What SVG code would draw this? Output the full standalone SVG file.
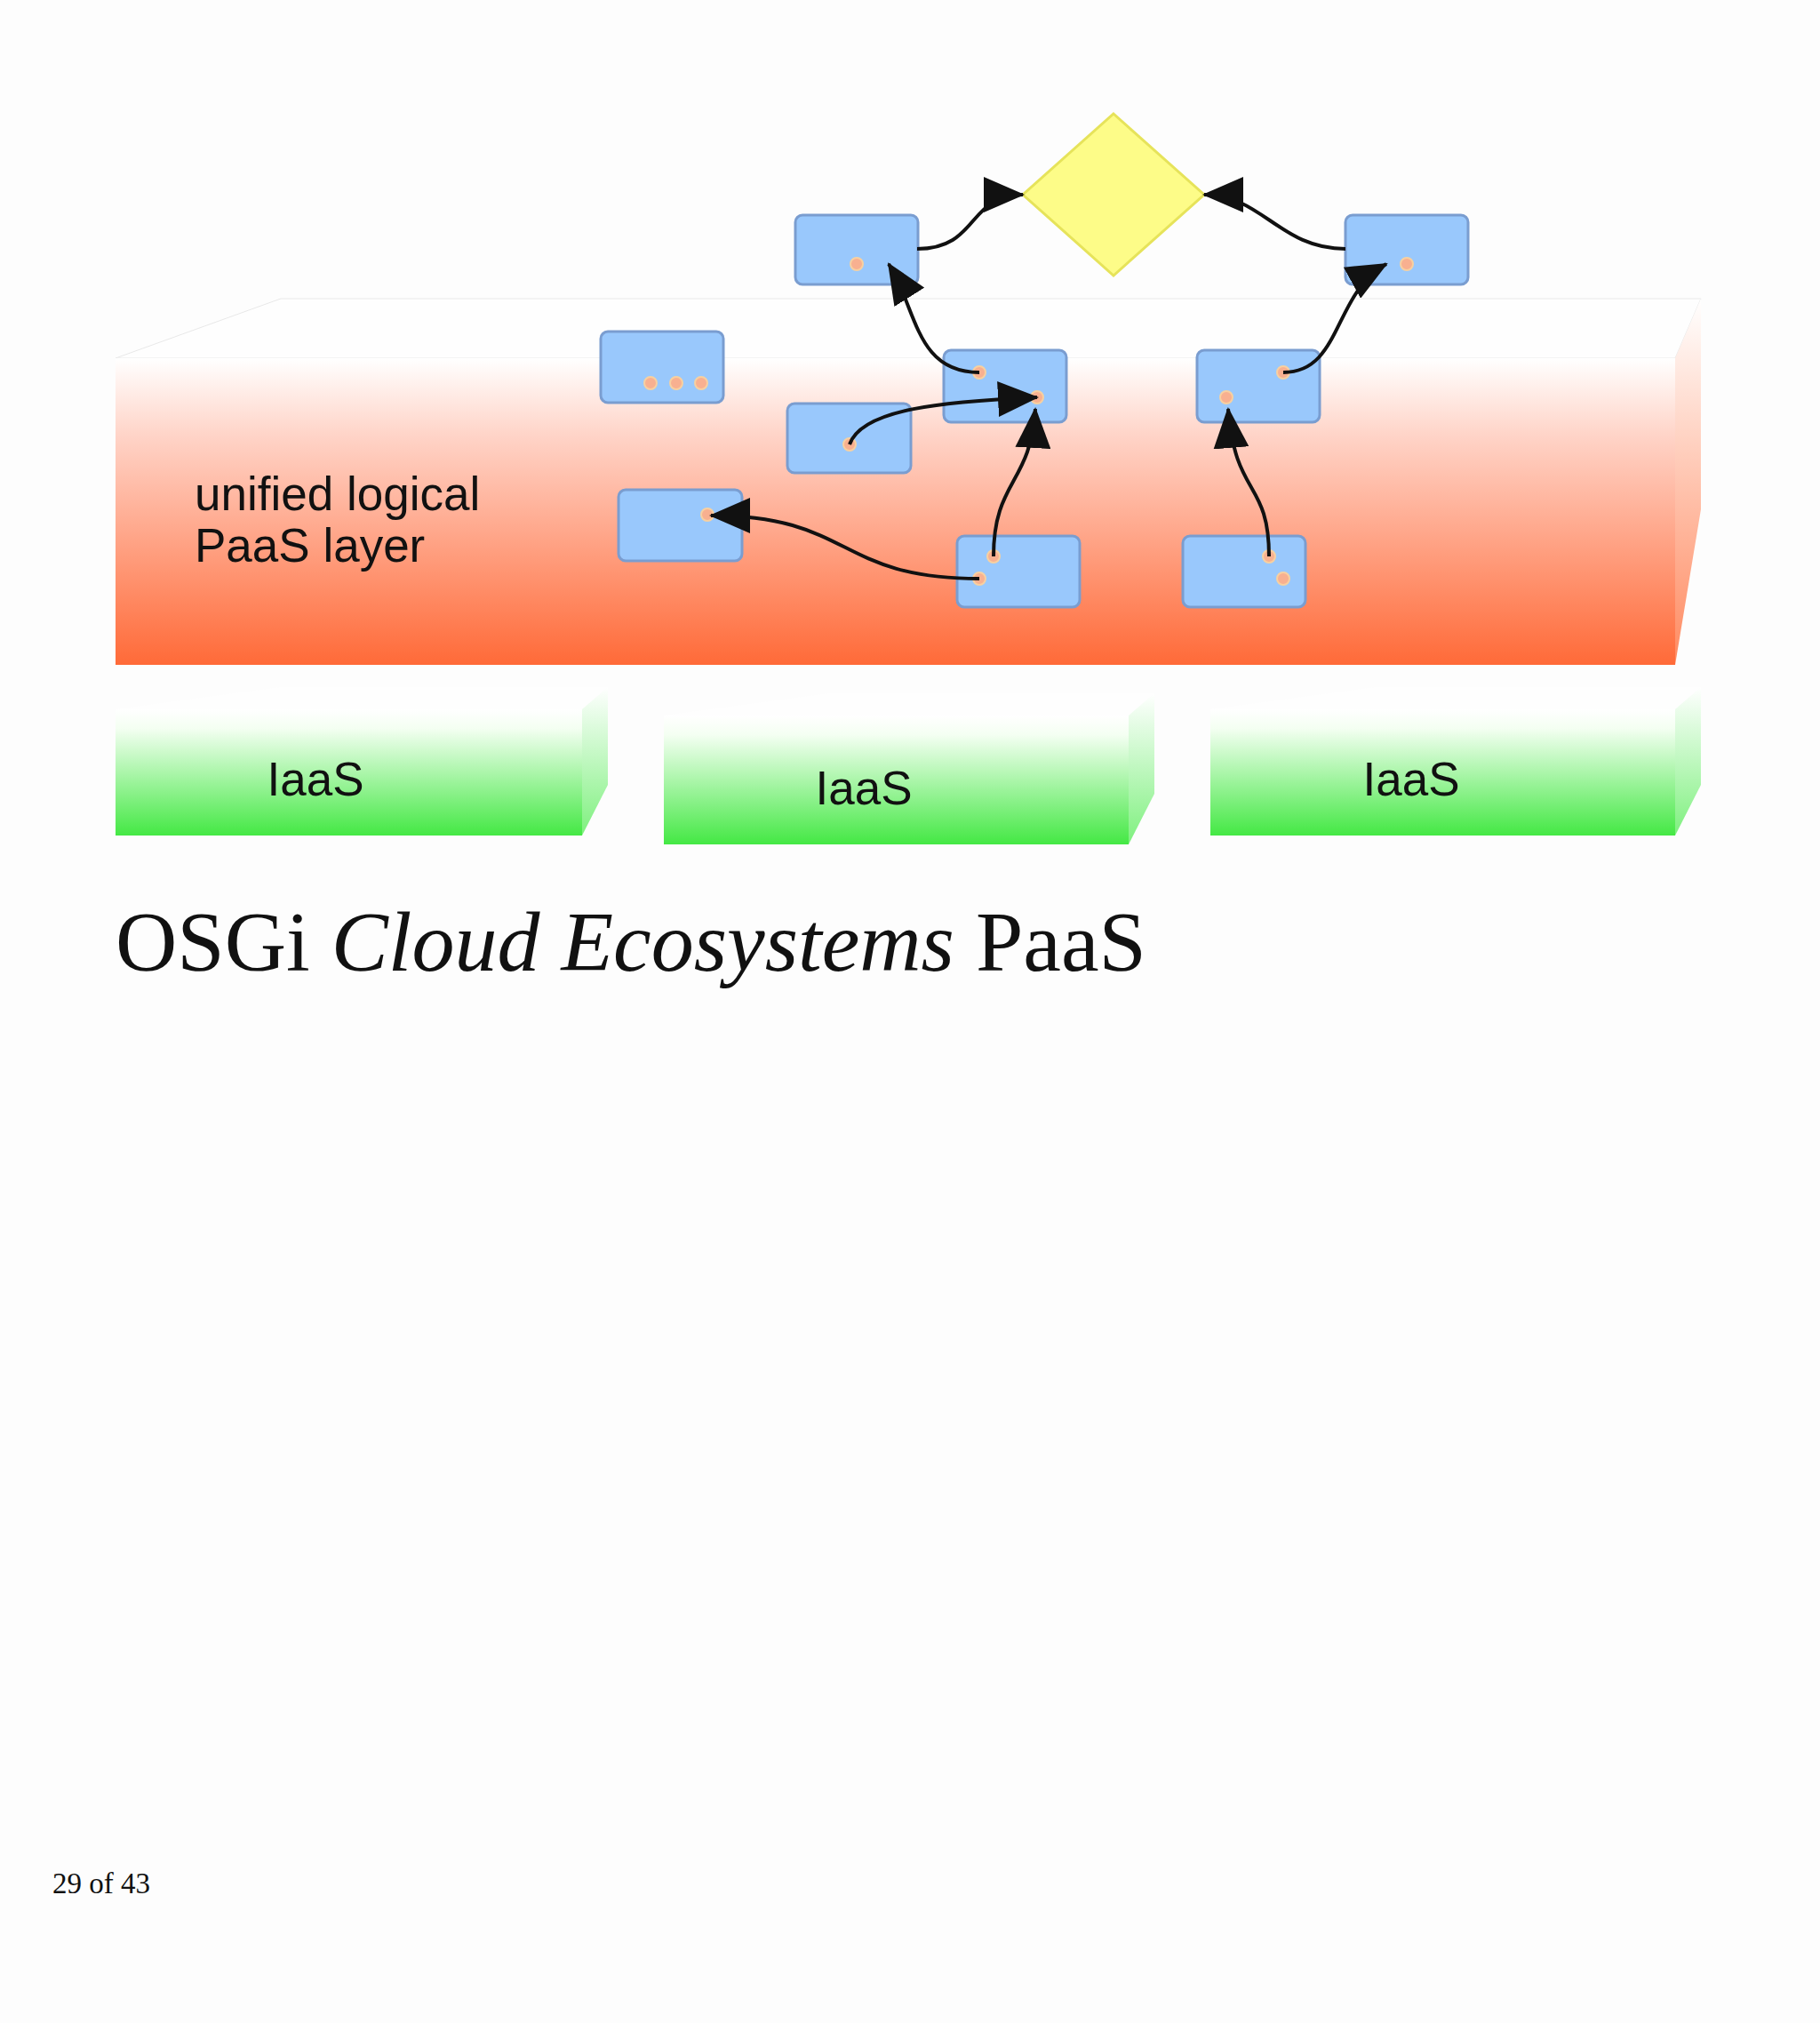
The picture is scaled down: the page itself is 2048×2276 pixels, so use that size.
<svg xmlns="http://www.w3.org/2000/svg" width="2048" height="2276" viewBox="0 0 2048 2276">
<defs>
<linearGradient id="red" x1="0" y1="0" x2="0" y2="1"><stop offset="0" stop-color="#ffffff"/><stop offset="0.25" stop-color="#ffd4c8"/><stop offset="1" stop-color="#ff6a38"/></linearGradient>
<linearGradient id="redside" x1="0" y1="0" x2="0" y2="1"><stop offset="0" stop-color="#ffffff"/><stop offset="1" stop-color="#ff8a60"/></linearGradient>
<linearGradient id="green" x1="0" y1="0" x2="0" y2="1"><stop offset="0" stop-color="#ffffff"/><stop offset="0.15" stop-color="#f4fff2"/><stop offset="1" stop-color="#44e844"/></linearGradient>
<linearGradient id="greenside" x1="0" y1="0" x2="0" y2="1"><stop offset="0" stop-color="#ffffff"/><stop offset="1" stop-color="#7ef07e"/></linearGradient>
<marker id="ah" markerUnits="userSpaceOnUse" markerWidth="48" markerHeight="40" refX="44" refY="20" orient="auto"><path d="M0,0 L46,20 L0,40 Z" fill="#111"/></marker>
</defs>
<style>
.box{fill:#99c8fc;stroke:#7a9dd0;stroke-width:3}
.dot{fill:#f8b090;stroke:#f7d0a0;stroke-width:2}
.lbl{font-family:"Liberation Sans",Arial,sans-serif;font-size:53px;fill:#111}
.c{fill:none;stroke:#111;stroke-width:4;marker-end:url(#ah)}
</style>
<rect width="2048" height="2276" fill="#fdfdfd"/>
<g id="paas-layer">
<polygon points="130,403 316,336 1914,336 1885,403" fill="#fefefe" stroke="#e8e8e8" stroke-width="1"/>
<rect x="130" y="403" width="1755" height="345" fill="url(#red)"/>
<polygon points="1885,403 1914,336 1914,573 1885,748" fill="url(#redside)"/>
<text class="lbl" x="219" y="574">unified logical</text>
<text class="lbl" x="219" y="632">PaaS layer</text>
</g>
<g id="iaas1"><polygon points="130,798 316,773 684,773 655,798" fill="#fefefe"/><rect x="130" y="798" width="525" height="142" fill="url(#green)"/><polygon points="655,798 684,773 684,883 655,940" fill="url(#greenside)"/><text class="lbl" x="355" y="895" text-anchor="middle">IaaS</text></g>
<g id="iaas2"><polygon points="747,805 933,780 1299,780 1270,805" fill="#fefefe"/><rect x="747" y="805" width="523" height="145" fill="url(#green)"/><polygon points="1270,805 1299,780 1299,893 1270,950" fill="url(#greenside)"/><text class="lbl" x="972" y="905" text-anchor="middle">IaaS</text></g>
<g id="iaas3"><polygon points="1362,798 1548,773 1914,773 1885,798" fill="#fefefe"/><rect x="1362" y="798" width="523" height="142" fill="url(#green)"/><polygon points="1885,798 1914,773 1914,883 1885,940" fill="url(#greenside)"/><text class="lbl" x="1588" y="895" text-anchor="middle">IaaS</text></g>
<g id="diamond"><polygon points="1253,128 1355,219 1253,310 1151,219" fill="#fdfc88" stroke="#e6e35a" stroke-width="3"/></g>
<g id="boxA"><rect class="box" x="895" y="242" width="138" height="78" rx="8"/><circle class="dot" cx="964" cy="297" r="7"/></g>
<g id="boxB"><rect class="box" x="1514" y="242" width="138" height="78" rx="8"/><circle class="dot" cx="1583" cy="297" r="7"/></g>
<g id="boxC"><rect class="box" x="676" y="373" width="138" height="80" rx="8"/><circle class="dot" cx="732" cy="431" r="7"/><circle class="dot" cx="761" cy="431" r="7"/><circle class="dot" cx="789" cy="431" r="7"/></g>
<g id="boxD"><rect class="box" x="1062" y="394" width="138" height="81" rx="8"/><circle class="dot" cx="1102" cy="419" r="7"/><circle class="dot" cx="1167" cy="447" r="7"/></g>
<g id="boxE"><rect class="box" x="1347" y="394" width="138" height="81" rx="8"/><circle class="dot" cx="1444" cy="419" r="7"/><circle class="dot" cx="1380" cy="447" r="7"/></g>
<g id="boxF"><rect class="box" x="886" y="454" width="139" height="78" rx="8"/><circle class="dot" cx="956" cy="500" r="7"/></g>
<g id="boxG"><rect class="box" x="696" y="551" width="139" height="80" rx="8"/><circle class="dot" cx="796" cy="579" r="7"/></g>
<g id="boxH"><rect class="box" x="1077" y="603" width="138" height="80" rx="8"/><circle class="dot" cx="1118" cy="626" r="7"/><circle class="dot" cx="1102" cy="651" r="7"/></g>
<g id="boxI"><rect class="box" x="1331" y="603" width="138" height="80" rx="8"/><circle class="dot" cx="1428" cy="626" r="7"/><circle class="dot" cx="1444" cy="651" r="7"/></g>
<g id="connectors">
<path class="c" d="M1032,280 C1102,280 1088,219 1151,219"/>
<path class="c" d="M1514,280 C1440,280 1420,219 1355,219"/>
<path class="c" d="M1102,419 C1030,419 1032,348 1000,297"/>
<path class="c" d="M1444,419 C1510,419 1500,330 1560,297"/>
<path class="c" d="M956,500 C970,460 1060,452 1167,447"/>
<path class="c" d="M1118,626 C1118,540 1160,545 1165,460"/>
<path class="c" d="M1102,651 C940,651 960,580 800,580"/>
<path class="c" d="M1428,626 C1428,540 1390,560 1382,460"/>
</g>
<text x="130" y="1092" font-family="'Liberation Serif','Times New Roman',serif" font-size="96" fill="#111">OSGi <tspan font-style="italic">Cloud Ecosystems</tspan> PaaS</text>
<text x="59" y="2130" font-family="'Liberation Serif','Times New Roman',serif" font-size="33" fill="#111">29 of 43</text>
</svg>
